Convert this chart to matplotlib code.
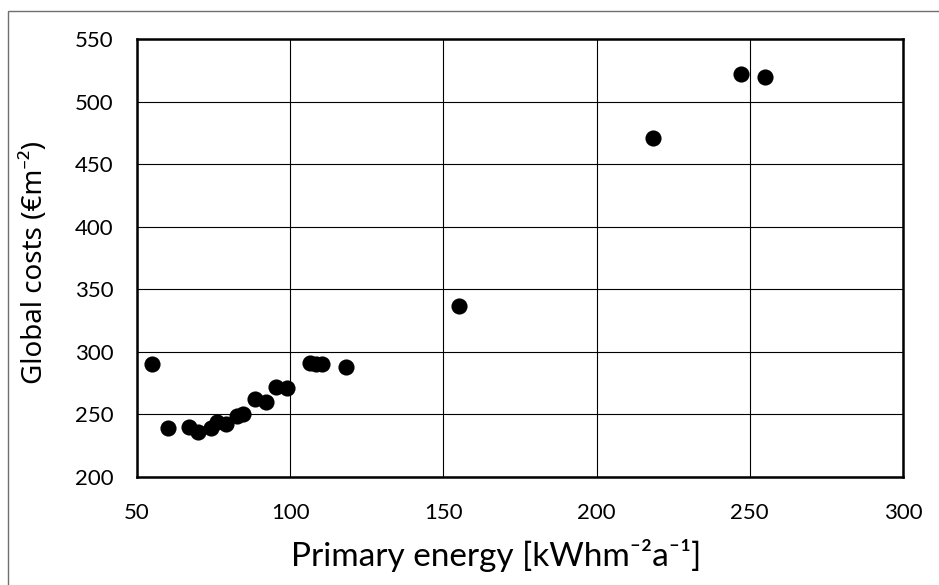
import matplotlib
matplotlib.use("Agg")
import matplotlib.pyplot as plt
from matplotlib.patches import Rectangle

# Primary energy [kWh m-2 a-1] vs global costs [EUR m-2]
primary_energy = [55, 60, 67, 70, 74, 76, 79, 82.5, 84.5, 88.5, 92, 95.5, 99,
                  106.5, 108.5, 110.3, 118.2, 155, 218.5, 247, 254.8]
global_costs = [290, 239, 240, 236, 239, 244, 242, 249, 250, 262, 260, 272, 271,
                291, 290, 290, 288, 337, 471, 522, 520]

x_ticks = [50, 100, 150, 200, 250, 300]
y_ticks = [200, 250, 300, 350, 400, 450, 500, 550]

W, H = 939, 585
fig = plt.figure(figsize=(W / 100, H / 100), dpi=100)

# chart-area border (only left/top edges visible in the crop)
fig.patches.append(Rectangle((8 / W, -0.1), 1.2, 1.1 - 11 / H, transform=fig.transFigure,
                             fill=False, edgecolor="#6f6f6f", linewidth=1.0))

left, right, top, bottom = 137, 903, 39, 477
ax = fig.add_axes([left / W, 1 - bottom / H, (right - left) / W, (bottom - top) / H])

ax.scatter(primary_energy, global_costs, s=135, color="black", zorder=3, linewidths=0)

ax.set_xlim(50, 300)
ax.set_ylim(200, 550)
ax.set_xticks(x_ticks)
ax.set_yticks(y_ticks)
ax.grid(True, color="black", linewidth=0.8)
ax.set_axisbelow(True)
for sp in ax.spines.values():
    sp.set_linewidth(1.8)
    sp.set_color("black")

ax.tick_params(axis="y", length=0, pad=17, labelsize=16)
ax.tick_params(axis="x", length=0, pad=19, labelsize=16)
for lab in ax.get_xticklabels() + ax.get_yticklabels():
    lab.set_family(["Lato", "DejaVu Sans"])

fig.text(496 / W, 1 - 555 / H, "Primary energy [kWhm\u207b\u00b2a\u207b\u00b9]", fontsize=24,
         family=["Lato", "DejaVu Sans"], ha="center", va="center")
fig.text(35 / W, 1 - 262 / H, "Global costs (\u20acm\u207b\u00b2)", fontsize=20,
         family=["Noto Sans", "DejaVu Sans"], ha="center", va="center", rotation=90)

fig.savefig("out.png", dpi=100)
